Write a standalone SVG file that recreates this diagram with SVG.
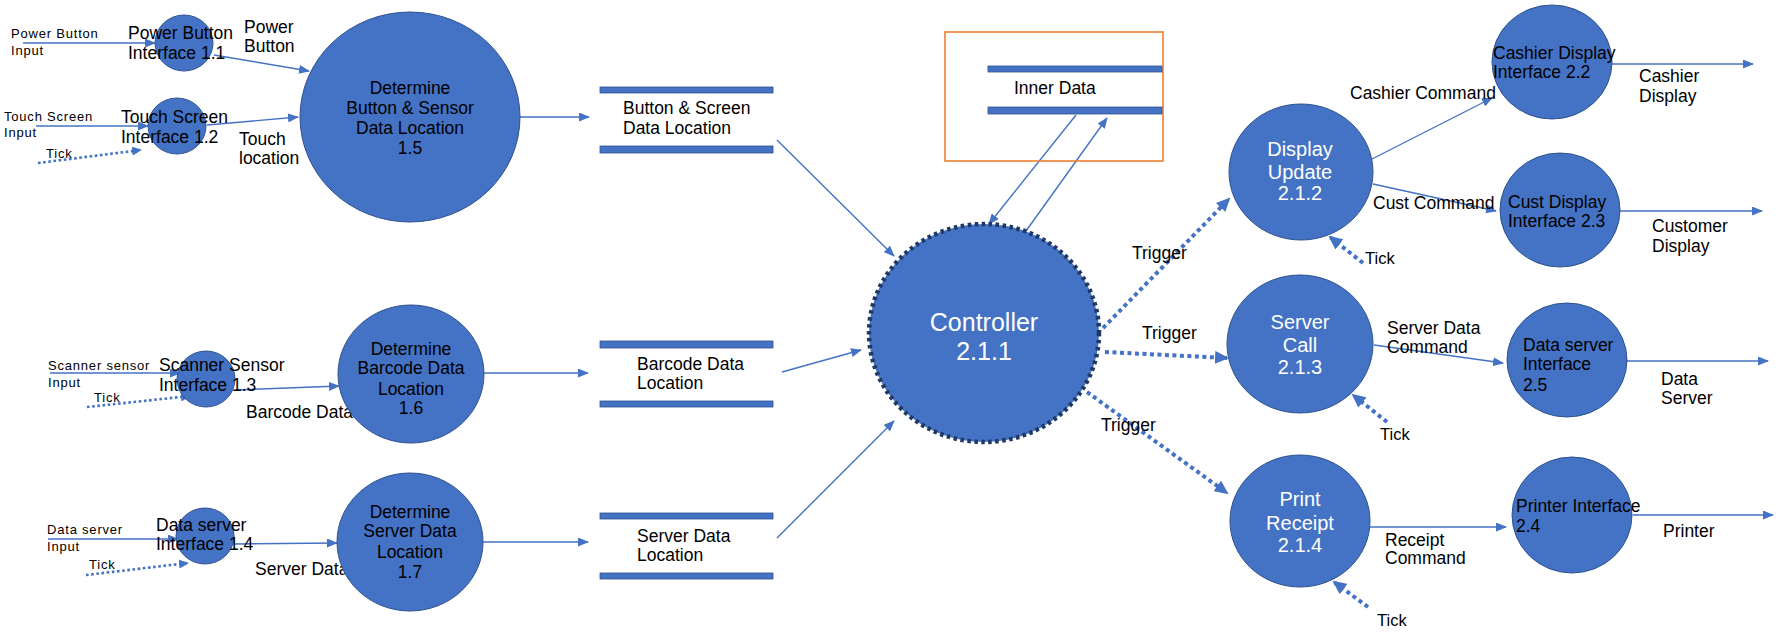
<svg xmlns="http://www.w3.org/2000/svg" width="1776" height="632" viewBox="0 0 1776 632">
<defs>
<style>
text{font-family:"Liberation Sans",Arial,sans-serif;fill:#000}
.s{font-size:13px;letter-spacing:0.8px}
.m{font-size:17.5px}
.t{font-size:16.5px}
.w{fill:#fff;font-size:20px;text-anchor:middle}
.c{text-anchor:middle}
.n{fill:#4472C4;stroke:#2F528F;stroke-width:1}
.bar{fill:#4472C4;stroke:#2F528F;stroke-width:0.8}
.ln{stroke:#4472C4;stroke-width:1.4;fill:none;marker-end:url(#a)}
.dl{stroke:#4472C4;stroke-width:2.6;fill:none;stroke-dasharray:2.6 2.6;marker-end:url(#da)}
.dt{stroke:#4472C4;stroke-width:4;fill:none;stroke-dasharray:4 3.5;marker-end:url(#db)}
</style>
<marker id="a" markerUnits="userSpaceOnUse" markerWidth="11" markerHeight="9" refX="10" refY="4.5" orient="auto"><path d="M0,0 L11,4.5 L0,9 Z" fill="#4472C4"/></marker>
<marker id="da" markerUnits="userSpaceOnUse" markerWidth="10" markerHeight="9" refX="9" refY="4.5" orient="auto"><path d="M0,0 L10,4.5 L0,9 Z" fill="#4472C4"/></marker>
<marker id="db" markerUnits="userSpaceOnUse" markerWidth="14" markerHeight="13" refX="12" refY="6.5" orient="auto"><path d="M0,0 L14,6.5 L0,13 Z" fill="#4472C4"/></marker>
</defs>
<rect width="1776" height="632" fill="#fff"/>

<g id="connectors">
<line class="ln" x1="23" y1="43" x2="155" y2="43"/>
<line class="ln" x1="36" y1="126" x2="148" y2="126"/>
<line class="ln" x1="214" y1="55" x2="309" y2="71"/>
<line class="ln" x1="207" y1="125" x2="298" y2="117"/>
<line class="ln" x1="520" y1="117" x2="589" y2="117"/>
<line class="ln" x1="777" y1="140" x2="894" y2="256"/>
<line class="ln" x1="1076" y1="115" x2="989" y2="224"/>
<line class="ln" x1="1026" y1="231" x2="1107" y2="118"/>
<line class="ln" x1="50" y1="373" x2="180" y2="373"/>
<line class="ln" x1="236" y1="390" x2="339" y2="386"/>
<line class="ln" x1="484" y1="373" x2="588" y2="373"/>
<line class="ln" x1="782" y1="372" x2="861" y2="350"/>
<line class="ln" x1="48" y1="539" x2="178" y2="539"/>
<line class="ln" x1="234" y1="544" x2="337" y2="543"/>
<line class="ln" x1="483" y1="542" x2="588" y2="542"/>
<line class="ln" x1="777" y1="538" x2="894" y2="421"/>
<line class="ln" x1="1372" y1="159" x2="1492" y2="98"/>
<line class="ln" x1="1373" y1="184" x2="1496" y2="211"/>
<line class="ln" x1="1374" y1="345" x2="1503" y2="363"/>
<line class="ln" x1="1370" y1="527" x2="1506" y2="527"/>
<line class="ln" x1="1612" y1="64" x2="1753" y2="64"/>
<line class="ln" x1="1620" y1="211" x2="1762" y2="211"/>
<line class="ln" x1="1627" y1="361" x2="1768" y2="361"/>
<line class="ln" x1="1633" y1="515" x2="1773" y2="515"/>
<line class="dl" x1="38" y1="163" x2="141" y2="150"/>
<line class="dl" x1="87" y1="407" x2="190" y2="396"/>
<line class="dl" x1="86" y1="575" x2="188" y2="563"/>
<line class="dt" x1="1103" y1="328" x2="1229" y2="199"/>
<line class="dt" x1="1105" y1="352" x2="1227" y2="358"/>
<line class="dt" x1="1087" y1="392" x2="1227" y2="493"/>
<line class="dt" x1="1363" y1="263" x2="1330" y2="237"/>
<line class="dt" x1="1387" y1="422" x2="1353" y2="395"/>
<line class="dt" x1="1368" y1="607" x2="1334" y2="582"/>
</g>

<g id="labels">
<text class="s" x="11" y="38">Power Button</text>
<text class="s" x="11" y="55">Input</text>
<text class="s" x="4" y="121">Touch Screen</text>
<text class="s" x="4" y="137">Input</text>
<text class="s" x="46" y="158">Tick</text>
<text class="s" x="48" y="370">Scanner sensor</text>
<text class="s" x="48" y="387">Input</text>
<text class="s" x="94" y="402">Tick</text>
<text class="s" x="47" y="534">Data server</text>
<text class="s" x="47" y="551">Input</text>
<text class="s" x="89" y="569">Tick</text>
<text class="m" x="244" y="33">Power</text>
<text class="m" x="244" y="52">Button</text>
<text class="m" x="239" y="145">Touch</text>
<text class="m" x="239" y="164">location</text>
<text class="m" x="246" y="418">Barcode Data</text>
<text class="m" x="255" y="575">Server Data</text>
<text class="m" x="1132" y="259">Trigger</text>
<text class="m" x="1142" y="339">Trigger</text>
<text class="m" x="1101" y="431">Trigger</text>
<text class="m" x="1350" y="99">Cashier Command</text>
<text class="m" x="1373" y="209">Cust Command</text>
<text class="m" x="1387" y="334">Server Data</text>
<text class="m" x="1387" y="353">Command</text>
<text class="m" x="1385" y="546">Receipt</text>
<text class="m" x="1385" y="564">Command</text>
<text class="m" x="1639" y="82">Cashier</text>
<text class="m" x="1639" y="102">Display</text>
<text class="m" x="1652" y="232">Customer</text>
<text class="m" x="1652" y="252">Display</text>
<text class="m" x="1661" y="385">Data</text>
<text class="m" x="1661" y="404">Server</text>
<text class="m" x="1663" y="537">Printer</text>
<text class="t" x="1365" y="264">Tick</text>
<text class="t" x="1380" y="440">Tick</text>
<text class="t" x="1377" y="626">Tick</text>
</g>

<g id="n11"><ellipse class="n" cx="184" cy="43" rx="29" ry="28"/>
<text class="m" x="128" y="39">Power Button</text><text class="m" x="128" y="59">Interface 1.1</text></g>
<g id="n12"><ellipse class="n" cx="177" cy="126" rx="29" ry="28"/>
<text class="m" x="121" y="123">Touch Screen</text><text class="m" x="121" y="143">Interface 1.2</text></g>
<g id="n13"><ellipse class="n" cx="206" cy="379" rx="29" ry="28"/>
<text class="m" x="159" y="371">Scanner Sensor</text><text class="m" x="159" y="391">Interface 1.3</text></g>
<g id="n14"><ellipse class="n" cx="205" cy="536" rx="29" ry="28"/>
<text class="m" x="156" y="531">Data server</text><text class="m" x="156" y="550">Interface 1.4</text></g>

<g id="n15"><ellipse class="n" cx="410" cy="117" rx="110" ry="105"/>
<text class="m c" x="410" y="94">Determine</text><text class="m c" x="410" y="114">Button &amp; Sensor</text><text class="m c" x="410" y="134">Data Location</text><text class="m c" x="410" y="154">1.5</text></g>
<g id="n16"><ellipse class="n" cx="411" cy="374" rx="73" ry="69"/>
<text class="m c" x="411" y="355">Determine</text><text class="m c" x="411" y="374">Barcode Data</text><text class="m c" x="411" y="395">Location</text><text class="m c" x="411" y="414">1.6</text></g>
<g id="n17"><ellipse class="n" cx="410" cy="542" rx="73" ry="69"/>
<text class="m c" x="410" y="518">Determine</text><text class="m c" x="410" y="537">Server Data</text><text class="m c" x="410" y="558">Location</text><text class="m c" x="410" y="578">1.7</text></g>

<g id="store1"><rect class="bar" x="600" y="87" width="173" height="6"/><rect class="bar" x="600" y="146" width="173" height="7"/>
<text class="m" x="623" y="114">Button &amp; Screen</text><text class="m" x="623" y="134">Data Location</text></g>
<g id="store2"><rect class="bar" x="600" y="341" width="173" height="7"/><rect class="bar" x="600" y="401" width="173" height="6"/>
<text class="m" x="637" y="370">Barcode Data</text><text class="m" x="637" y="389">Location</text></g>
<g id="store3"><rect class="bar" x="600" y="513" width="173" height="6"/><rect class="bar" x="600" y="573" width="173" height="6"/>
<text class="m" x="637" y="542">Server Data</text><text class="m" x="637" y="561">Location</text></g>

<g id="innerData"><rect x="945" y="32" width="218" height="129" fill="none" stroke="#ED7D31" stroke-width="1.6"/>
<rect class="bar" x="988" y="66" width="174" height="6"/><rect class="bar" x="988" y="107" width="174" height="7"/>
<text class="m" x="1014" y="94">Inner Data</text></g>

<g id="controller"><ellipse cx="984" cy="333" rx="115" ry="109" fill="#4472C4" stroke="#203864" stroke-width="4.5" stroke-dasharray="3.5 3.5"/>
<text class="w" x="984" y="331" style="font-size:25px">Controller</text><text class="w" x="984" y="360" style="font-size:25px">2.1.1</text></g>

<g id="n212"><ellipse class="n" cx="1301" cy="172" rx="72" ry="68"/>
<text class="w" x="1300" y="156">Display</text><text class="w" x="1300" y="179">Update</text><text class="w" x="1300" y="200">2.1.2</text></g>
<g id="n213"><ellipse class="n" cx="1300" cy="344" rx="73" ry="69"/>
<text class="w" x="1300" y="329">Server</text><text class="w" x="1300" y="352">Call</text><text class="w" x="1300" y="374">2.1.3</text></g>
<g id="n214"><ellipse class="n" cx="1300" cy="521" rx="70" ry="66"/>
<text class="w" x="1300" y="506">Print</text><text class="w" x="1300" y="530">Receipt</text><text class="w" x="1300" y="552">2.1.4</text></g>

<g id="n22"><ellipse class="n" cx="1552" cy="62" rx="60" ry="57"/>
<text class="m" x="1493" y="59">Cashier Display</text><text class="m" x="1493" y="78">Interface 2.2</text></g>
<g id="n23"><ellipse class="n" cx="1560" cy="210" rx="60" ry="57"/>
<text class="m" x="1508" y="208">Cust Display</text><text class="m" x="1508" y="227">Interface 2.3</text></g>
<g id="n25"><ellipse class="n" cx="1567" cy="360" rx="60" ry="57"/>
<text class="m" x="1523" y="351">Data server</text><text class="m" x="1523" y="370">Interface</text><text class="m" x="1523" y="391">2.5</text></g>
<g id="n24"><ellipse class="n" cx="1572" cy="515" rx="60" ry="58"/>
<text class="m" x="1516" y="512">Printer Interface</text><text class="m" x="1516" y="532">2.4</text></g>
</svg>
